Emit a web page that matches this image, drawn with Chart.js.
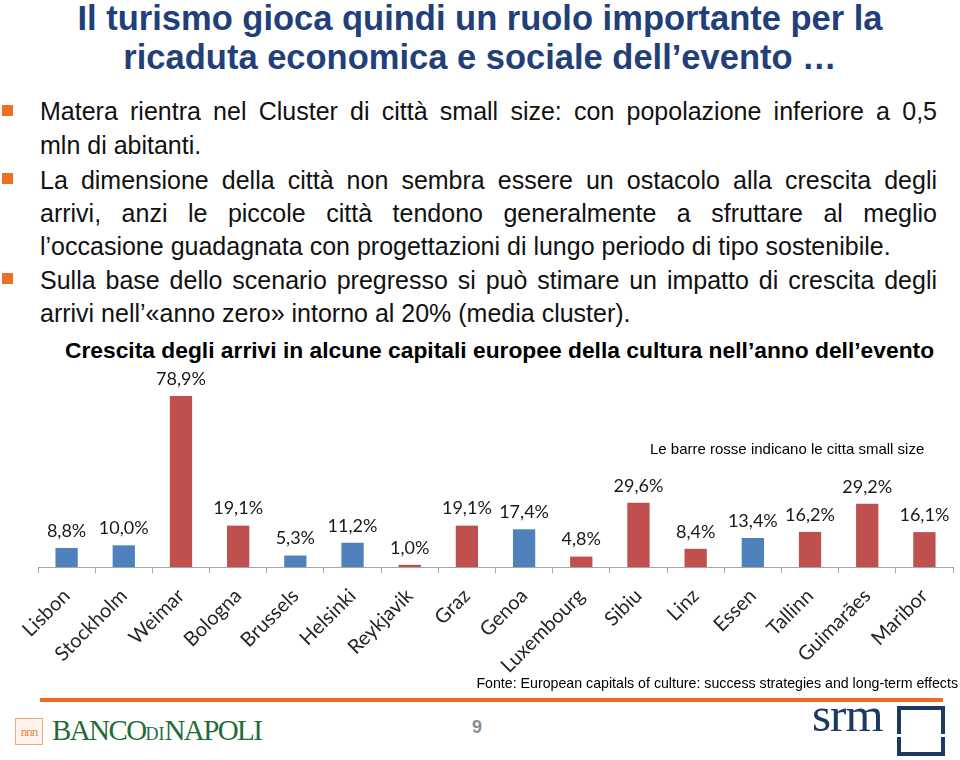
<!DOCTYPE html>
<html>
<head>
<meta charset="utf-8">
<script src="https://cdn.jsdelivr.net/npm/chart.js@4/dist/chart.umd.min.js"></script>
<style>
  body { margin: 0; background: #fff; }
  #slide { position: relative; width: 960px; height: 760px; overflow: hidden; font-family: "Liberation Sans", Arial, sans-serif; }
  .title { position: absolute; left: 0; width: 960px; text-align: center; font-weight: bold; font-size: 34.5px; color: #223f7a; line-height: 38px; white-space: nowrap; }
  .line { position: absolute; left: 40px; width: 897px; font-size: 25px; line-height: 34px; color: #111; white-space: nowrap; }
  .just { text-align: justify; text-align-last: justify; white-space: normal; }
  .bullet { position: absolute; left: 2px; width: 11px; height: 11px; background: #ee7024; }
  #chartTitle { position: absolute; left: 65px; top: 337px; font-weight: bold; font-size: 22.8px; white-space: nowrap; color: #000; }
  #note { position: absolute; left: 650px; top: 440px; font-size: 15px; white-space: nowrap; color: #000; z-index: 2; }
  #fonte { position: absolute; right: 2px; top: 675px; font-size: 14.2px; white-space: nowrap; color: #000; z-index: 2; }
  #rule { position: absolute; left: 40px; top: 698px; width: 903px; height: 4px; background: #f26a21; }
  #page { position: absolute; left: 472px; top: 717px; font-size: 18px; font-weight: bold; color: #8c8c8c; }
  #chart { position: absolute; left: 0; top: 340px; }
  #bdnIcon { position: absolute; left: 15px; top: 718px; width: 26px; height: 25px; border: 1px solid #eea77a; background: #fdf3ec;
    font-family: "Liberation Serif", serif; font-size: 13px; color: #e8874a; text-align: center; line-height: 26px; letter-spacing: -1px; }
  #bdn { position: absolute; left: 52px; top: 714px; font-family: "Liberation Serif", "DejaVu Serif", serif; font-size: 29px; color: #1f6e3a; white-space: nowrap; letter-spacing: -1.6px; }
  #bdn small { font-size: 18px; letter-spacing: 0; }
  #srm { position: absolute; left: 812px; top: 686px; font-family: "Liberation Serif", serif; font-size: 49px; color: #1b3a63; letter-spacing: -1px; }
  #srmTop { position: absolute; left: 897px; top: 706px; width: 40px; height: 24px; border: 4px solid #1b3a63; border-bottom: none; }
  #srmBot { position: absolute; left: 897px; top: 737px; width: 40px; height: 15px; border: 4px solid #1b3a63; border-top: none; }
</style>
</head>
<body>
<div id="slide">
  <div class="title" style="top: -1px;">Il turismo gioca quindi un ruolo importante per la</div>
  <div class="title" style="top: 38px;">ricaduta economica e sociale dell’evento …</div>

  <div class="bullet" style="top: 105px;"></div>
  <div class="line just" style="top: 94px;">Matera rientra nel Cluster di città small size: con popolazione inferiore a 0,5</div>
  <div class="line" style="top: 128px;">mln di abitanti.</div>

  <div class="bullet" style="top: 173px;"></div>
  <div class="line just" style="top: 163px;">La dimensione della città non sembra essere un ostacolo alla crescita degli</div>
  <div class="line just" style="top: 196px;">arrivi, anzi le piccole città tendono generalmente a sfruttare al meglio</div>
  <div class="line" style="top: 229px;">l’occasione guadagnata con progettazioni di lungo periodo di tipo sostenibile.</div>

  <div class="bullet" style="top: 273px;"></div>
  <div class="line just" style="top: 263px;">Sulla base dello scenario pregresso si può stimare un impatto di crescita degli</div>
  <div class="line" style="top: 296px;">arrivi nell’«anno zero» intorno al 20% (media cluster).</div>

  <div id="chartTitle">Crescita degli arrivi in alcune capitali europee della cultura nell’anno dell’evento</div>
  <canvas id="chart" width="960" height="340"></canvas>
  <div id="note">Le barre rosse indicano le citta small size</div>
  <div id="fonte">Fonte: European capitals of culture: success strategies and long-term effects</div>

  <div id="rule"></div>
  <div id="bdnIcon">nnn</div>
  <div id="bdn">BANCO<small>DI</small>NAPOLI</div>
  <div id="page">9</div>
  <div id="srm">srm</div>
  <div id="srmTop"></div>
  <div id="srmBot"></div>
</div>

<script>
// dati del grafico
const cities = ['Lisbon', 'Stockholm', 'Weimar', 'Bologna', 'Brussels', 'Helsinki', 'Reykjavik', 'Graz',
    'Genoa', 'Luxembourg', 'Sibiu', 'Linz', 'Essen', 'Tallinn', 'Guimarães', 'Maribor'];
const growth = [8.8, 10.0, 78.9, 19.1, 5.3, 11.2, 1.0, 19.1, 17.4, 4.8, 29.6, 8.4, 13.4, 16.2, 29.2, 16.1];
const smallSize = [false, false, true, true, false, false, true, true, false, true, true, true, false, true, true, true];

const BLUE = '#4f81bd';
const RED = '#c0504d';

// etichette sopra le barre
const valueLabels = {
    id: 'valueLabels',
    afterDatasetsDraw(chart) {
        const ctx = chart.ctx;
        const meta = chart.getDatasetMeta(0);
        ctx.save();
        ctx.font = '18px Lato, "Open Sans", sans-serif';
        ctx.fillStyle = '#1a1a1a';
        ctx.textAlign = 'center';
        ctx.textBaseline = 'middle';
        meta.data.forEach((bar, i) => {
            const txt = growth[i].toFixed(1).replace('.', ',') + '%';
            ctx.fillText(txt, bar.x, bar.y - 17);
        });
        ctx.restore();
    }
};

const ctx = document.getElementById('chart').getContext('2d');
new Chart(ctx, {
    type: 'bar',
    data: {
        labels: cities,
        datasets: [{
            data: growth,
            backgroundColor: smallSize.map(s => s ? RED : BLUE),
            barPercentage: 0.39,
            categoryPercentage: 1
        }]
    },
    options: {
        responsive: false,
        animation: false,
        layout: { padding: { left: 38, right: 7, top: 32, bottom: 0 } },
        plugins: {
            legend: { display: false },
            tooltip: { enabled: false }
        },
        scales: {
            x: {
                grid: { drawOnChartArea: false, offset: true, tickLength: 6, color: '#a6a6a6' },
                border: { color: '#a6a6a6' },
                ticks: {
                    maxRotation: 45,
                    minRotation: 45,
                    padding: 11,
                    color: '#262626',
                    font: { family: 'Lato, "Open Sans", sans-serif', size: 20 }
                },
                afterFit: scale => { scale.height = 113; }
            },
            y: { display: false, min: 0, max: 90 }
        }
    },
    plugins: [valueLabels]
});
</script>
</body>
</html>
